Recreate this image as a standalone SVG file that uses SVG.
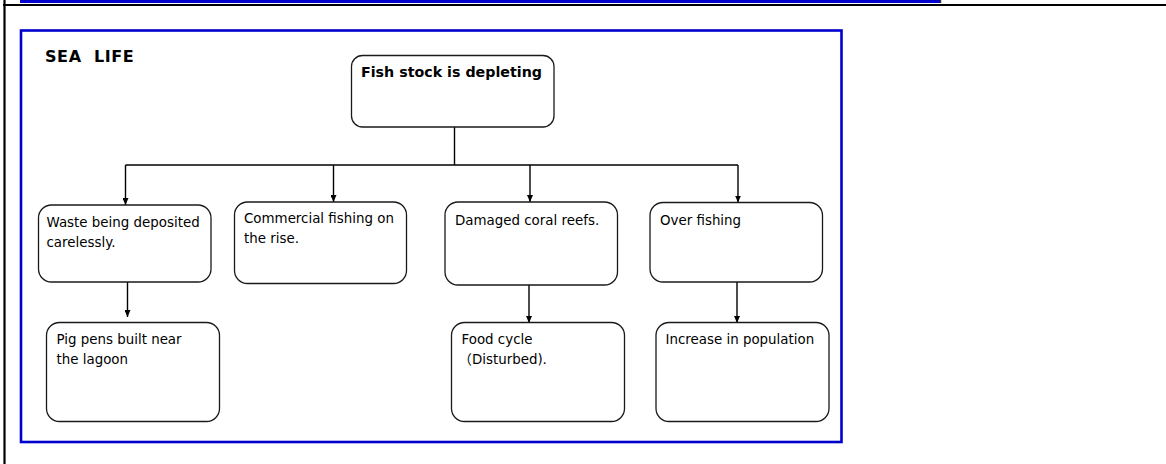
<svg xmlns="http://www.w3.org/2000/svg" width="1166" height="464" viewBox="0 0 1166 464">
<style>
.node{fill:#fff;stroke:#1a1a1a;stroke-width:1.3}
.t{font-family:"DejaVu Sans","Noto Sans CJK JP",sans-serif;font-size:13.4px;fill:#000}
.b{font-family:"DejaVu Sans","Noto Sans CJK JP",sans-serif;font-weight:bold;fill:#000}
.c{fill:none;stroke:#000;stroke-width:1.4}
</style>
<defs>
<marker id="ah" viewBox="0 0 10 10" refX="10" refY="5" markerWidth="7" markerHeight="6" markerUnits="userSpaceOnUse" orient="auto" preserveAspectRatio="none">
<path d="M0,0 L10,5 L0,10 z" fill="#000"/>
</marker>
</defs>
<rect width="1166" height="464" fill="#fff"/>
<g id="frame">
<line x1="20" y1="1.5" x2="941" y2="1.5" stroke="#0000cc" stroke-width="3"/>
<line x1="21" y1="0" x2="21" y2="3" stroke="#0000cc" stroke-width="2"/>
<line x1="940.5" y1="0" x2="940.5" y2="3" stroke="#333" stroke-width="1.5"/>
<line x1="3" y1="5" x2="1166" y2="5" stroke="#000" stroke-width="2"/>
<line x1="4.5" y1="0" x2="4.5" y2="464" stroke="#000" stroke-width="2.2"/>
<rect x="21" y="30.5" width="820.5" height="411.5" fill="none" stroke="#0000cc" stroke-width="2.6"/>
<text class="b" x="45" y="61.5" font-size="16" letter-spacing="0.6" xml:space="preserve">SEA  LIFE</text>
</g>
<g id="connectors">
<path class="c" d="M454.5 127 V165"/>
<path class="c" d="M125.5 165 H738"/>
<path class="c" d="M125.5 165 V205" marker-end="url(#ah)"/>
<path class="c" d="M333.5 165 V202" marker-end="url(#ah)"/>
<path class="c" d="M530 165 V202" marker-end="url(#ah)"/>
<path class="c" d="M738 165 V202.5" marker-end="url(#ah)"/>
<path class="c" d="M127.5 282 V317" marker-end="url(#ah)"/>
<path class="c" d="M529 285 V323" marker-end="url(#ah)"/>
<path class="c" d="M737 282 V323" marker-end="url(#ah)"/>
</g>
<g id="n-fish">
<rect class="node" x="351.5" y="55.5" width="202.5" height="71.5" rx="11"/>
<text class="b" x="361" y="77" font-size="14" textLength="181" lengthAdjust="spacingAndGlyphs">Fish stock is depleting</text>
</g>
<g id="n-waste">
<rect class="node" x="38.5" y="205" width="172.5" height="77" rx="13"/>
<text class="t" x="46.5" y="226.5">Waste being deposited</text>
<text class="t" x="46.5" y="246.5">carelessly.</text>
</g>
<g id="n-commercial">
<rect class="node" x="234.5" y="202" width="172" height="81.5" rx="13"/>
<text class="t" x="244" y="223">Commercial fishing on</text>
<text class="t" x="244" y="243">the rise.</text>
</g>
<g id="n-coral">
<rect class="node" x="445" y="202" width="172.5" height="83" rx="13"/>
<text class="t" x="455" y="225">Damaged coral reefs.</text>
</g>
<g id="n-over">
<rect class="node" x="650" y="202.5" width="172.5" height="79.5" rx="13"/>
<text class="t" x="660" y="225">Over fishing</text>
</g>
<g id="n-pig">
<rect class="node" x="46.5" y="322.5" width="173" height="99" rx="13"/>
<text class="t" x="56.5" y="344">Pig pens built near</text>
<text class="t" x="56.5" y="364">the lagoon</text>
</g>
<g id="n-food">
<rect class="node" x="451.5" y="322.5" width="173" height="99" rx="13"/>
<text class="t" x="461.5" y="344">Food cycle</text>
<text class="t" x="458.5" y="364">（Disturbed).</text>
</g>
<g id="n-pop">
<rect class="node" x="656" y="322.5" width="173" height="99" rx="13"/>
<text class="t" x="665.5" y="344">Increase in population</text>
</g>
</svg>
